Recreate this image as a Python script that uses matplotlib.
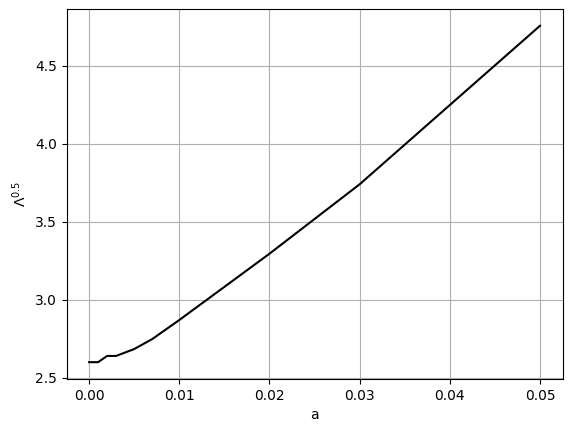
import matplotlib
matplotlib.use('Agg')
import matplotlib.pyplot as plt

# values
a = [0.0, 0.001, 0.002, 0.003, 0.005, 0.007, 0.01, 0.02, 0.03, 0.05]
lam_sqrt = [2.60, 2.60, 2.64, 2.64, 2.684, 2.748, 2.87, 3.295, 3.74, 4.756]

fig = plt.figure(figsize=(5.72, 4.32), dpi=100)
ax = fig.add_axes([0.1163, 0.1227, 0.8671, 0.8565])
ax.plot(a, lam_sqrt, color='black')
ax.grid(True)
ax.set_xlabel('a')
ax.set_ylabel(r'$\Lambda^{0.5}$')
fig.savefig('out.png', dpi=100)
